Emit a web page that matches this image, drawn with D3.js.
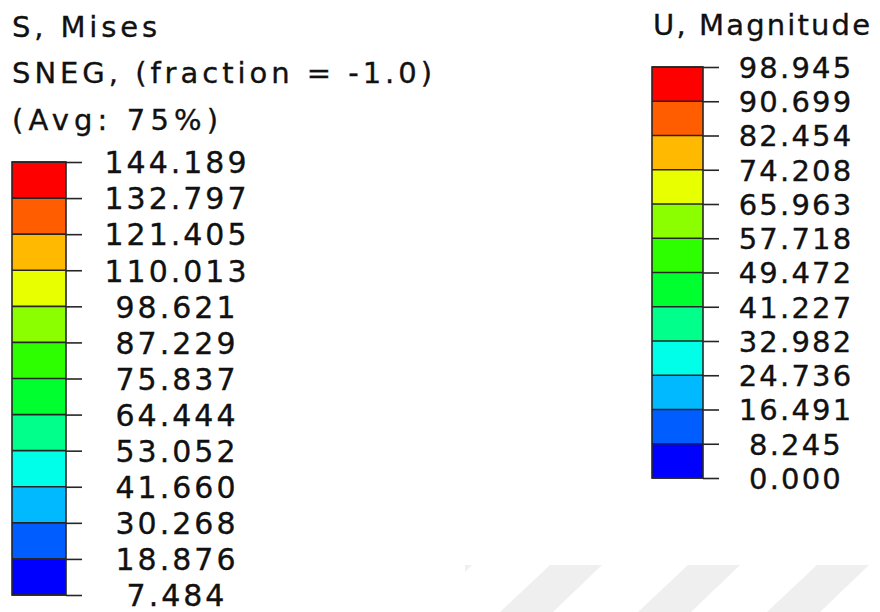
<!DOCTYPE html>
<html><head><meta charset="utf-8">
<script src="https://cdn.jsdelivr.net/npm/d3@7"></script>
<style>
html,body{margin:0;padding:0;background:#fff;}
svg{display:block;}
text{font-family:"DejaVu Sans",Verdana,sans-serif;fill:#111;stroke:#111;stroke-width:0.35px;}
</style></head>
<body>
<script>
// ---- data ----
const stressTitle = ["S, Mises", "SNEG, (fraction = -1.0)", "(Avg: 75%)"];
const stressTicks = [144.189, 132.797, 121.405, 110.013, 98.621, 87.229, 75.837, 64.444, 53.052, 41.660, 30.268, 18.876, 7.484];
const dispTitle = ["U, Magnitude"];
const dispTicks = [98.945, 90.699, 82.454, 74.208, 65.963, 57.718, 49.472, 41.227, 32.982, 24.736, 16.491, 8.245, 0.000];
const bandColors = ["#FF0000", "#FF5D00", "#FFB900", "#E8FF00", "#8BFF00", "#2EFF00", "#00FF2E", "#00FF8B", "#00FFE8", "#00B9FF", "#005DFF", "#0000FF"];

const W = 880, H = 612;
const svg = d3.select("body").append("svg").attr("width", W).attr("height", H);

// faint watermark stripes (decorative)
const wm = svg.append("g").attr("fill", "#efefef");
[500, 638, 767].forEach(x0 => {
  wm.append("path").attr("d", `M${x0},612 L${x0 + 50},565 L${x0 + 102},565 L${x0 + 53},612 Z`);
});
wm.append("path").attr("d", "M465,565 L472,565 L465,572 Z");

function legend(cfg) {
  const g = svg.append("g");
  cfg.title.forEach((t, i) => {
    g.append("text").attr("x", cfg.titleX).attr("y", cfg.titleY[i])
      .attr("font-size", cfg.titleSize)
      .attr("textLength", cfg.titleLen[i]).attr("lengthAdjust", "spacing")
      .text(t);
  });
  const vals = cfg.ticks;
  const y = d3.scaleLinear().domain([d3.min(vals), d3.max(vals)]).range([cfg.y1, cfg.y0]);
  const bands = d3.pairs(vals).map((p, i) => ({hi: p[0], lo: p[1], c: bandColors[i]}));
  g.selectAll("rect.band").data(bands).join("rect").attr("class", "band")
    .attr("x", cfg.x0).attr("width", cfg.x1 - cfg.x0)
    .attr("y", d => y(d.hi)).attr("height", d => y(d.lo) - y(d.hi))
    .attr("fill", d => d.c);
  g.selectAll("line.sep").data(vals).join("line").attr("class", "sep")
    .attr("x1", cfg.x0).attr("x2", cfg.x1)
    .attr("y1", d => y(d)).attr("y2", d => y(d))
    .attr("stroke", "#262626").attr("stroke-width", 1.6);
  g.append("rect").attr("x", cfg.x0).attr("y", cfg.y0)
    .attr("width", cfg.x1 - cfg.x0).attr("height", cfg.y1 - cfg.y0)
    .attr("fill", "none").attr("stroke", "#262626").attr("stroke-width", 1.6);
  const axis = d3.axisRight(y).tickValues(vals).tickFormat(d3.format(".3f"))
    .tickSize(cfg.tick).tickPadding(0);
  const ax = g.append("g").attr("transform", `translate(${cfg.x1},0)`).call(axis);
  ax.select(".domain").remove();
  ax.selectAll(".tick line").attr("stroke", "#262626").attr("stroke-width", 1.6);
  ax.selectAll(".tick text")
    .attr("x", cfg.labelX - cfg.x1).attr("dy", "0.36em")
    .attr("text-anchor", "middle")
    .attr("fill", "#111")
    .style("font-family", '"DejaVu Sans",Verdana,sans-serif')
    .style("font-size", cfg.labelSize + "px")
    .style("letter-spacing", cfg.ls + "px");
}

legend({title: stressTitle, titleX: 12, titleY: [37, 83, 130], titleSize: 29,
  titleLen: [145, 420, 206], ticks: stressTicks,
  x0: 12, x1: 66, y0: 162, y1: 595, tick: 16, labelX: 177, labelSize: 30, ls: 3.0});

legend({title: dispTitle, titleX: 653, titleY: [35], titleSize: 29,
  titleLen: [217], ticks: dispTicks,
  x0: 652, x1: 703, y0: 67, y1: 478, tick: 16, labelX: 796, labelSize: 29, ls: 2.2});
</script>
</body></html>
